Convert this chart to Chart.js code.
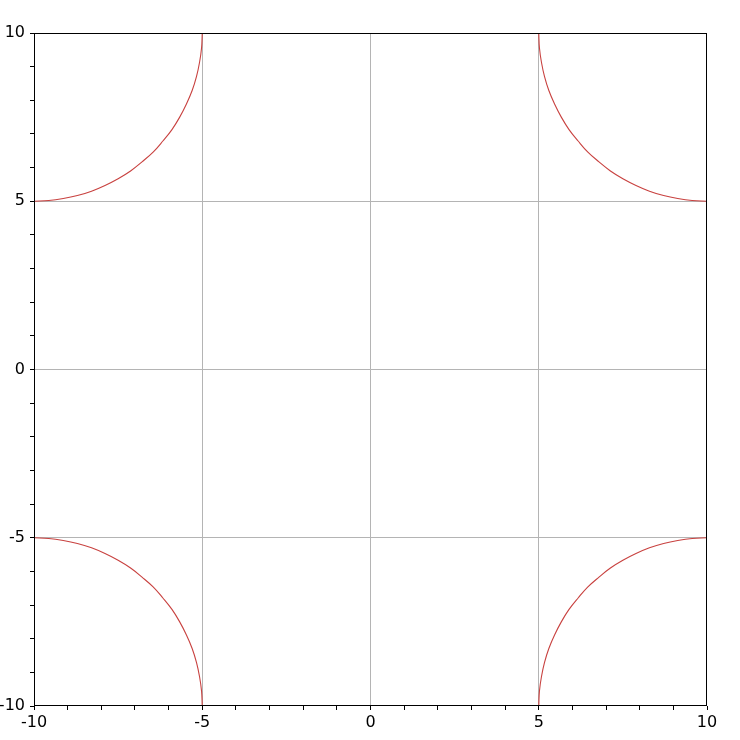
<!DOCTYPE html>
<html>
<head>
<meta charset="utf-8">
<script src="https://cdn.jsdelivr.net/npm/chart.js@4.4.1/dist/chart.umd.min.js"></script>
<style>
  html, body { margin: 0; padding: 0; background: #fff; }
  #wrap { width: 740px; height: 740px; }
</style>
</head>
<body>
<div id="wrap"><canvas id="plot"></canvas></div>
<script>
// arcs (quarter circles touching the corners)
const arcXLeft = [-10, -9.56, -9.13, -8.71, -8.29, -7.89, -7.5, -7.13, -6.79, -6.46, -6.17, -5.9, -5.67, -5.47, -5.3, -5.17, -5.08, -5.02, -5];
const arcXRight = [10, 9.56, 9.13, 8.71, 8.29, 7.89, 7.5, 7.13, 6.79, 6.46, 6.17, 5.9, 5.67, 5.47, 5.3, 5.17, 5.08, 5.02, 5];
const arcYTop = [5, 5.02, 5.08, 5.17, 5.3, 5.47, 5.67, 5.9, 6.17, 6.46, 6.79, 7.13, 7.5, 7.89, 8.29, 8.71, 9.13, 9.56, 10];
const arcYBottom = [-5, -5.02, -5.08, -5.17, -5.3, -5.47, -5.67, -5.9, -6.17, -6.46, -6.79, -7.13, -7.5, -7.89, -8.29, -8.71, -9.13, -9.56, -10];

const tickLabels = [-10, -5, 0, 5, 10];
const gridValues = [-5, 0, 5];

function pts(xs, ys) {
    return xs.map((x, i) => ({ x: x, y: ys[i] }));
}

const lineColor = '#c8413f';
const arcs = [
    pts(arcXLeft, arcYTop),
    pts(arcXRight, arcYTop),
    pts(arcXLeft, arcYBottom),
    pts(arcXRight, arcYBottom)
];

const datasets = arcs.map(a => ({
    data: a,
    showLine: true,
    borderColor: lineColor,
    borderWidth: 1.1,
    pointRadius: 0,
    tension: 0.4,
    clip: false
}));

// black frame round the plot area
const frame = {
    id: 'frame',
    afterDatasetsDraw(chart) {
        const c = chart.ctx, a = chart.chartArea;
        c.save();
        c.strokeStyle = '#000';
        c.lineWidth = 1;
        c.strokeRect(a.left + 0.5, a.top + 0.5, a.right - a.left - 1, a.bottom - a.top - 1);
        c.restore();
    }
};

function axis(pos, size) {
    return {
        type: 'linear',
        position: pos,
        min: -10,
        max: 10,
        border: { display: false },
        grid: {
            color: ctx => gridValues.includes(ctx.tick.value) ? '#b4b4b4' : 'rgba(0,0,0,0)',
            lineWidth: 1,
            drawTicks: true,
            tickLength: 4,
            tickColor: '#000'
        },
        ticks: {
            stepSize: 1,
            autoSkip: false,
            maxRotation: 0,
            color: '#000',
            padding: pos === 'left' ? 5 : 3,
            font: { family: 'DejaVu Sans', size: 16 },
            callback: v => tickLabels.includes(v) ? String(v) : ''
        },
        afterFit(s) {
            if (pos === 'left') s.width = size; else s.height = size;
        }
    };
}

Chart.defaults.font.family = 'DejaVu Sans';
new Chart(document.getElementById('plot').getContext('2d'), {
    type: 'scatter',
    data: { datasets: datasets },
    options: {
        responsive: true,
        maintainAspectRatio: false,
        animation: false,
        layout: { padding: { top: 33, right: 33, left: 0, bottom: 0 } },
        plugins: { legend: { display: false }, tooltip: { enabled: false } },
        scales: {
            x: axis('bottom', 34),
            y: axis('left', 34)
        }
    },
    plugins: [frame]
});
</script>
</body>
</html>
